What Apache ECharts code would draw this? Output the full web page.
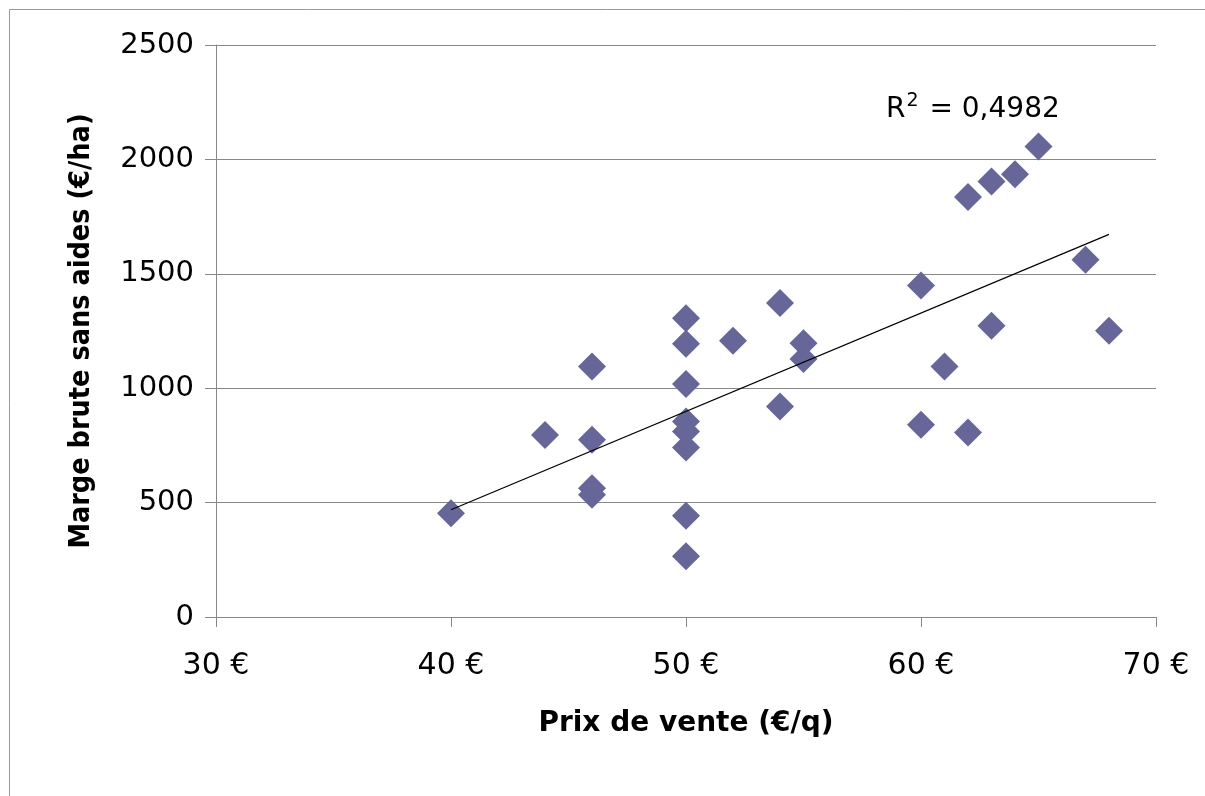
<!DOCTYPE html>
<html><head><meta charset="utf-8">
<script src="https://cdn.jsdelivr.net/npm/echarts@6/dist/echarts.min.js"></script>
<style>html,body{margin:0;padding:0;background:#fff}#c{width:1205px;height:796px}</style>
</head><body><div id="c"></div>
<script>
const prix = [40,44,46,46,46,46,50,50,50,50,50,50,50,50,52,54,54,55,55,60,60,61,62,62,63,63,64,65,67,68];
const marge = [453,796,1095,775,563,534,1306,1194,1018,855,811,741,442,265,1207,1372,920,1197,1128,1449,840,1095,1836,806,1903,1273,1935,2056,1561,1251];
const xTicks = [30,40,50,60,70];
const yTicks = [0,500,1000,1500,2000,2500];
const r2Text = '0,4982';

// linear regression trendline
const n = prix.length;
let sx=0, sy=0, sxx=0, sxy=0;
for (let i=0;i<n;i++){ sx+=prix[i]; sy+=marge[i]; sxx+=prix[i]*prix[i]; sxy+=prix[i]*marge[i]; }
const slope = (n*sxy - sx*sy)/(n*sxx - sx*sx);
const icpt = (sy - slope*sx)/n;
const xmin = Math.min(...prix), xmax = Math.max(...prix);
const trend = [[xmin, icpt+slope*xmin],[xmax, icpt+slope*xmax]];

const font = '"DejaVu Sans", sans-serif';
const fontC = '"DejaVu Sans Condensed", "DejaVu Sans", sans-serif';
const chart = echarts.init(document.getElementById('c'), null, {renderer:'canvas'});
chart.setOption({
  animation:false,
  backgroundColor:'#fff',
  grid:{left:216, top:45, right:49, bottom:179, containLabel:false},
  xAxis:{
    type:'value', min:xTicks[0], max:xTicks[xTicks.length-1], interval:10,
    axisLine:{show:true, lineStyle:{color:'#888', width:1}},
    axisTick:{show:true, length:10, lineStyle:{color:'#888'}},
    splitLine:{show:false},
    axisLabel:{fontFamily:font, fontSize:30, color:'#000', margin:34, formatter:v=>v+' €'},
    name:'Prix de vente (€/q)', nameLocation:'middle', nameGap:93,
    nameTextStyle:{fontFamily:font, fontSize:28, fontWeight:'bold', color:'#000'}
  },
  yAxis:{
    type:'value', min:yTicks[0], max:yTicks[yTicks.length-1], interval:500,
    axisLine:{show:true, lineStyle:{color:'#888', width:1}},
    axisTick:{show:true, length:11, inside:false, lineStyle:{color:'#888'}},
    splitLine:{show:true, lineStyle:{color:'#888', width:1}},
    axisLabel:{fontFamily:font, fontSize:29, color:'#000', margin:22, formatter:v=>String(v)},
    name:'Marge brute sans aides (€/ha)', nameLocation:'middle', nameGap:120,
    nameTextStyle:{fontFamily:fontC, fontSize:28.5, fontWeight:'bold', color:'#000'}
  },
  graphic:[
    {type:'rect', shape:{x:9.5, y:9.5, width:1200, height:800}, style:{fill:null, stroke:'#999', lineWidth:1}, silent:true},
    {type:'text', left:886, top:92, style:{
      text:'R{sup|2} = '+r2Text,
      rich:{sup:{fontSize:19, verticalAlign:'top', padding:[0,2,16,1], fontFamily:font, fill:'#000'}},
      fontFamily:font, fontSize:28, fill:'#000'
    }}
  ],
  series:[
    {type:'scatter', data:prix.map((x,i)=>[x, marge[i]]), symbol:'diamond', symbolSize:28,
     itemStyle:{color:'#666699', opacity:1}, z:3},
    {type:'line', data:trend, showSymbol:false, symbol:'none', lineStyle:{color:'#000', width:1.2}, z:4, silent:true}
  ]
});
</script></body></html>
